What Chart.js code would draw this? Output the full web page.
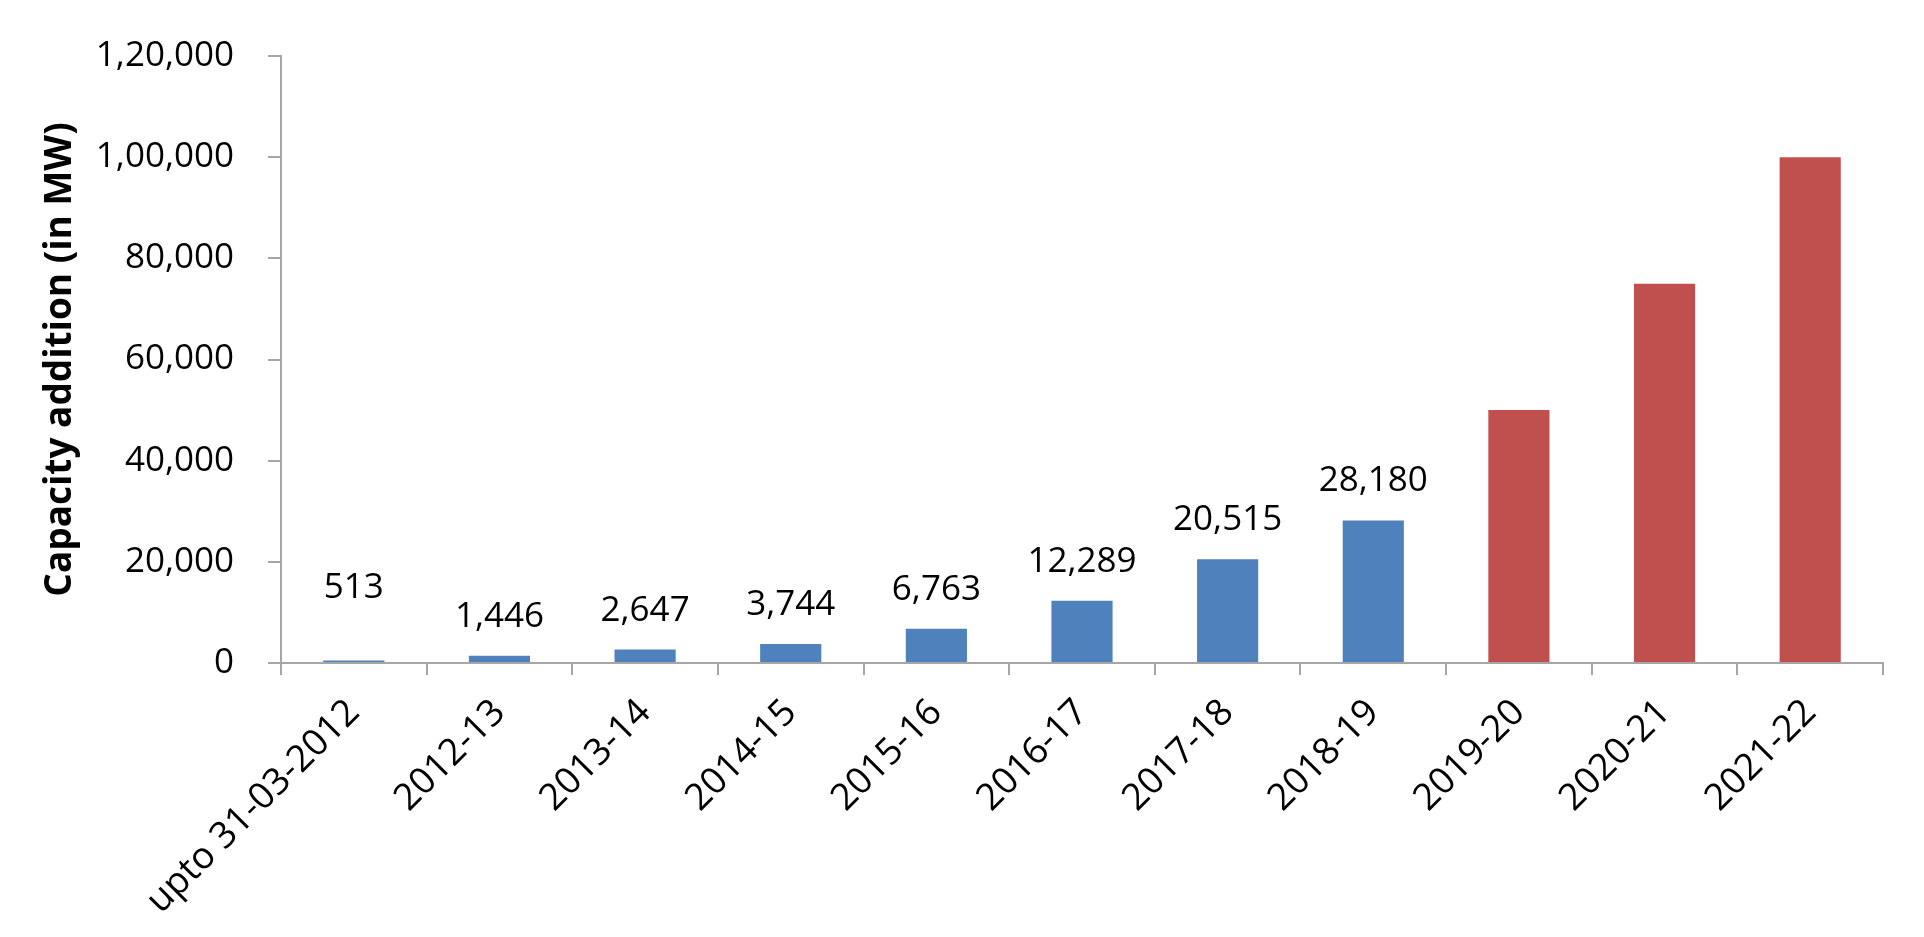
<!DOCTYPE html>
<html lang="en">
<head>
  <meta charset="UTF-8">
  <title>Capacity addition</title>
  <script src="https://cdn.jsdelivr.net/npm/chart.js"></script>
  <style>
    html, body { margin: 0; padding: 0; background: #fff; }
    #wrap { width: 1924px; height: 937px; }
  </style>
</head>
<body>
  <div id="wrap"><canvas id="chart"></canvas></div>
  <script>
    // data
    var years = ['upto 31-03-2012', '2012-13', '2013-14', '2014-15', '2015-16', '2016-17',
                 '2017-18', '2018-19', '2019-20', '2020-21', '2021-22']
    var achieved = [513, 1446, 2647, 3744, 6763, 12289, 20515, 28180, null, null, null]
    var target = [null, null, null, null, null, null, null, null, 50000, 75000, 100000]
    var yMax = 120000
    var yStep = 20000

    // Indian digit grouping: 1,20,000
    function inr(n) {
      var s = String(Math.round(n))
      if (s.length <= 3) return s
      var last3 = s.slice(-3)
      var rest = s.slice(0, -3).replace(/\B(?=(\d{2})+(?!\d))/g, ',')
      return rest + ',' + last3
    }

    var font = "'Open Sans', sans-serif"
    var axisGrey = '#A6A6A6'
    var labelNudge = { 0: 33 }   // Excel moved the first label up a bit

    var barLabels = {
      id: 'barLabels',
      afterDatasetsDraw: function (chart) {
        var ctx = chart.ctx
        var meta = chart.getDatasetMeta(0)
        ctx.save()
        ctx.font = '35px ' + font
        ctx.fillStyle = '#000'
        ctx.textAlign = 'center'
        ctx.textBaseline = 'alphabetic'
        meta.data.forEach(function (bar, i) {
          var v = achieved[i]
          if (v == null) return
          var y = bar.y - 29 - (labelNudge[i] || 0)
          ctx.fillText(inr(v), bar.x, y)
        })
        ctx.restore()
      }
    }

    var ctx = document.getElementById('chart').getContext('2d')
    var chart = new Chart(ctx, {
      type: 'bar',
      data: {
        labels: years,
        datasets: [{
          data: achieved,
          backgroundColor: '#4F81BD',
          barPercentage: 0.42,
          categoryPercentage: 1
        }, {
          data: target,
          backgroundColor: '#C0504D',
          barPercentage: 0.42,
          categoryPercentage: 1
        }]
      },
      options: {
        responsive: true,
        maintainAspectRatio: false,
        animation: false,
        layout: { padding: { top: 56, right: 41, left: 38, bottom: 0 } },
        plugins: {
          legend: { display: false },
          tooltip: { enabled: false }
        },
        scales: {
          x: {
            stacked: true,
            grid: {
              offset: true,
              drawOnChartArea: false,
              drawTicks: true,
              tickLength: 12,
              color: axisGrey,
              lineWidth: 2
            },
            border: { color: axisGrey, width: 2 },
            ticks: {
              maxRotation: 45,
              minRotation: 45,
              padding: 16,
              color: '#000',
              font: { family: font, size: 37 }
            },
            afterFit: function (scale) { scale.height = 274 }
          },
          y: {
            stacked: true,
            min: 0,
            max: yMax,
            grid: {
              drawOnChartArea: false,
              drawTicks: true,
              tickLength: 13,
              color: axisGrey,
              lineWidth: 2
            },
            border: { color: axisGrey, width: 2 },
            ticks: {
              stepSize: yStep,
              padding: 34,
              color: '#000',
              font: { family: font, size: 35 },
              callback: function (v) { return inr(v) }
            },
            title: {
              display: true,
              text: 'Capacity addition (in MW)',
              color: '#000',
              padding: 0,
              font: { family: font, size: 37, weight: 'bold' }
            },
            afterFit: function (scale) { scale.width = 243 }
          }
        }
      },
      plugins: [barLabels]
    })
  </script>
</body>
</html>
